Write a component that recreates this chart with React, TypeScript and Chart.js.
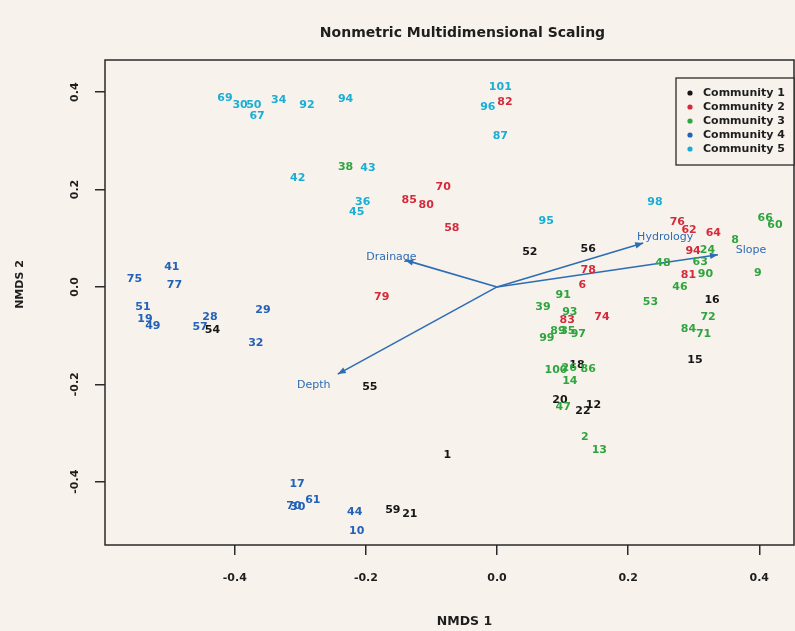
import React, { useEffect, useRef } from 'react';
import { Chart, registerables } from 'chart.js';

Chart.register(...registerables);

const chartTitle = 'Nonmetric Multidimensional Scaling';
const xAxisTitle = 'NMDS 1';
const yAxisTitle = 'NMDS 2';

const communityNames = ['Community 1', 'Community 2', 'Community 3', 'Community 4', 'Community 5'];
const communityColors = ['#161616', '#d42a3c', '#2ea53f', '#2262b8', '#1aaed4'];

const comm1Labels = ['52', '56', '16', '15', '18', '20', '22', '12', '55', '1', '59', '21', '54'];
const comm1X = [0.05, 0.139, 0.328, 0.302, 0.122, 0.096, 0.131, 0.147, -0.194, -0.076, -0.159, -0.133, -0.434];
const comm1Y = [0.072, 0.078, -0.027, -0.15, -0.16, -0.232, -0.255, -0.242, -0.205, -0.345, -0.458, -0.466, -0.088];

const comm2Labels = ['82', '70', '85', '80', '58', '79', '76', '62', '64', '94', '81', '78', '6', '83', '74'];
const comm2X = [0.012, -0.082, -0.134, -0.108, -0.069, -0.176, 0.275, 0.293, 0.33, 0.299, 0.292, 0.139, 0.13, 0.107, 0.16];
const comm2Y = [0.38, 0.205, 0.179, 0.168, 0.121, -0.021, 0.133, 0.117, 0.111, 0.074, 0.025, 0.035, 0.004, -0.068, -0.062];

const comm3Labels = ['38', '39', '91', '93', '99', '89', '35', '97', '100', '26', '86', '14', '47', '2', '13', '53', '46', '72', '84', '71', '48', '24', '63', '90', '8', '66', '60', '9'];
const comm3X = [-0.231, 0.07, 0.101, 0.111, 0.076, 0.093, 0.108, 0.124, 0.09, 0.11, 0.139, 0.111, 0.101, 0.134, 0.156, 0.234, 0.279, 0.322, 0.292, 0.315, 0.253, 0.321, 0.31, 0.318, 0.363, 0.409, 0.424, 0.398];
const comm3Y = [0.246, -0.041, -0.016, -0.051, -0.105, -0.09, -0.09, -0.097, -0.17, -0.166, -0.168, -0.193, -0.246, -0.308, -0.335, -0.031, 0.0, -0.062, -0.086, -0.097, 0.049, 0.076, 0.051, 0.027, 0.097, 0.142, 0.127, 0.029];

const comm4Labels = ['41', '75', '77', '51', '19', '49', '28', '57', '29', '32', '17', '70', '30', '61', '44', '10'];
const comm4X = [-0.496, -0.553, -0.492, -0.54, -0.537, -0.525, -0.438, -0.453, -0.357, -0.368, -0.305, -0.31, -0.304, -0.281, -0.217, -0.214];
const comm4Y = [0.041, 0.016, 0.004, -0.041, -0.066, -0.08, -0.062, -0.082, -0.047, -0.115, -0.405, -0.45, -0.452, -0.437, -0.462, -0.501];

const comm5Labels = ['69', '30', '50', '67', '34', '92', '94', '42', '43', '36', '45', '101', '96', '87', '95', '98'];
const comm5X = [-0.415, -0.392, -0.371, -0.366, -0.333, -0.29, -0.231, -0.304, -0.197, -0.205, -0.214, 0.005, -0.014, 0.005, 0.075, 0.241];
const comm5Y = [0.388, 0.374, 0.374, 0.351, 0.384, 0.374, 0.386, 0.224, 0.244, 0.175, 0.154, 0.411, 0.37, 0.31, 0.136, 0.175];

const vectorNames = ['Drainage', 'Depth', 'Hydrology', 'Slope'];
const vectorX = [-0.14, -0.243, 0.223, 0.337];
const vectorY = [0.055, -0.179, 0.09, 0.066];

const xTicks = [-0.4, -0.2, 0.0, 0.2, 0.4];
const yTicks = [-0.4, -0.2, 0.0, 0.2, 0.4];

const allLabels = [comm1Labels, comm2Labels, comm3Labels, comm4Labels, comm5Labels];
const allX = [comm1X, comm2X, comm3X, comm4X, comm5X];
const allY = [comm1Y, comm2Y, comm3Y, comm4Y, comm5Y];

const BG = '#f8f2ec';
const INK = '#1e1e1e';
const ARROW = '#2d6db4';

const nmdsPlugin = {
  id: 'nmds',
  beforeDraw(chart: any) {
    const ctx = chart.ctx;
    ctx.save();
    ctx.fillStyle = BG;
    ctx.fillRect(0, 0, chart.width, chart.height);
    ctx.restore();
  },
  afterDatasetsDraw(chart: any) {
    const ctx = chart.ctx;
    const xs = chart.scales.x;
    const ys = chart.scales.y;
    const area = chart.chartArea;

    // env vectors
    const ox = xs.getPixelForValue(0);
    const oy = ys.getPixelForValue(0);
    ctx.save();
    ctx.strokeStyle = ARROW;
    ctx.fillStyle = ARROW;
    ctx.lineWidth = 1.6;
    vectorNames.forEach((name, i) => {
      const ex = xs.getPixelForValue(vectorX[i]);
      const ey = ys.getPixelForValue(vectorY[i]);
      ctx.beginPath();
      ctx.moveTo(ox, oy);
      ctx.lineTo(ex, ey);
      ctx.stroke();
      const ang = Math.atan2(ey - oy, ex - ox);
      const L = 8, W = 3.2;
      ctx.beginPath();
      ctx.moveTo(ex, ey);
      ctx.lineTo(ex - L * Math.cos(ang) + W * Math.sin(ang), ey - L * Math.sin(ang) - W * Math.cos(ang));
      ctx.lineTo(ex - L * Math.cos(ang) - W * Math.sin(ang), ey - L * Math.sin(ang) + W * Math.cos(ang));
      ctx.closePath();
      ctx.fill();
      const lx = xs.getPixelForValue(vectorX[i] * 1.15);
      const ly = ys.getPixelForValue(vectorY[i] * 1.13);
      ctx.font = '11px "DejaVu Sans"';
      ctx.textAlign = 'center';
      ctx.textBaseline = 'middle';
      ctx.fillText(name, lx, ly);
    });
    ctx.restore();

    // point labels
    ctx.save();
    ctx.font = 'bold 11px "DejaVu Sans"';
    ctx.textAlign = 'center';
    ctx.textBaseline = 'middle';
    chart.data.datasets.forEach((ds: any, di: number) => {
      const meta = chart.getDatasetMeta(di);
      ctx.fillStyle = ds.borderColor;
      meta.data.forEach((el: any, j: number) => {
        ctx.fillText(ds.pointLabels[j], el.x, el.y);
      });
    });
    ctx.restore();

    // frame
    ctx.save();
    ctx.strokeStyle = '#2a2a2a';
    ctx.lineWidth = 1.5;
    ctx.strokeRect(area.left, area.top, area.right - area.left, area.bottom - area.top);
    ctx.restore();

    // tick labels
    ctx.save();
    ctx.fillStyle = INK;
    ctx.font = 'bold 11px "DejaVu Sans"';
    ctx.textAlign = 'center';
    ctx.textBaseline = 'middle';
    xTicks.forEach((v) => {
      ctx.fillText(v.toFixed(1), xs.getPixelForValue(v), area.bottom + 33);
    });
    yTicks.forEach((v) => {
      ctx.save();
      ctx.translate(area.left - 30, ys.getPixelForValue(v));
      ctx.rotate(-Math.PI / 2);
      ctx.fillText(v.toFixed(1), 0, 0);
      ctx.restore();
    });
    // axis titles
    ctx.font = 'bold 12.5px "DejaVu Sans"';
    ctx.fillText(xAxisTitle, (area.left + area.right) / 2 + 15, area.bottom + 77);
    ctx.font = 'bold 11px "DejaVu Sans"';
    ctx.save();
    ctx.translate(area.left - 85, (area.top + area.bottom) / 2 - 18);
    ctx.rotate(-Math.PI / 2);
    ctx.fillText(yAxisTitle, 0, 0);
    ctx.restore();
    // title
    ctx.font = 'bold 14px "DejaVu Sans"';
    ctx.fillText(chartTitle, (area.left + area.right) / 2 + 13, area.top - 27);
    ctx.restore();

    // legend
    ctx.save();
    const bw = 118, bh = 87;
    const bx = area.right - bw;
    const by = area.top + 18;
    ctx.fillStyle = BG;
    ctx.fillRect(bx, by, bw, bh);
    ctx.strokeStyle = '#2a2a2a';
    ctx.lineWidth = 1.3;
    ctx.strokeRect(bx, by, bw, bh);
    ctx.font = 'bold 11px "DejaVu Sans"';
    ctx.textAlign = 'left';
    ctx.textBaseline = 'middle';
    communityNames.forEach((name, i) => {
      const yy = by + 15 + i * 14;
      ctx.fillStyle = communityColors[i];
      ctx.beginPath();
      ctx.arc(bx + 14, yy, 2.6, 0, Math.PI * 2);
      ctx.fill();
      ctx.fillStyle = INK;
      ctx.fillText(name, bx + 27, yy);
    });
    ctx.restore();
  },
};

export default function App() {
  const ref = useRef<HTMLCanvasElement | null>(null);
  useEffect(() => {
    if (!ref.current) return;
    const datasets = communityNames.map((name, i) => ({
      label: name,
      data: allX[i].map((x, j) => ({ x, y: allY[i][j] })),
      pointLabels: allLabels[i],
      borderColor: communityColors[i],
      backgroundColor: communityColors[i],
      pointRadius: 0,
      pointHoverRadius: 0,
      showLine: false,
    }));
    const chart = new Chart(ref.current, {
      type: 'scatter',
      data: { datasets } as any,
      options: {
        animation: false,
        responsive: false,
        events: [],
        layout: { padding: { top: 60, right: 1, left: 0, bottom: 0 } },
        plugins: { legend: { display: false }, title: { display: false }, tooltip: { enabled: false } },
        scales: {
          x: {
            type: 'linear',
            min: -0.598,
            max: 0.453,
            afterBuildTicks: (s: any) => { s.ticks = xTicks.map((v) => ({ value: v })); },
            afterFit: (s: any) => { s.height = 86; },
            ticks: { display: false },
            grid: { drawOnChartArea: false, drawTicks: true, tickLength: 10, color: '#2a2a2a', lineWidth: 1.5 },
            border: { display: false },
          },
          y: {
            type: 'linear',
            min: -0.53,
            max: 0.466,
            afterBuildTicks: (s: any) => { s.ticks = yTicks.map((v) => ({ value: v })); },
            afterFit: (s: any) => { s.width = 105; },
            ticks: { display: false },
            grid: { drawOnChartArea: false, drawTicks: true, tickLength: 10, color: '#2a2a2a', lineWidth: 1.5 },
            border: { display: false },
          },
        },
      } as any,
      plugins: [nmdsPlugin],
    });
    return () => chart.destroy();
  }, []);
  return (
    <div style={{ position: 'fixed', left: 0, top: 0, width: 795, height: 631, background: BG }}>
      <canvas ref={ref} width={795} height={631} style={{ display: 'block' }} />
    </div>
  );
}
